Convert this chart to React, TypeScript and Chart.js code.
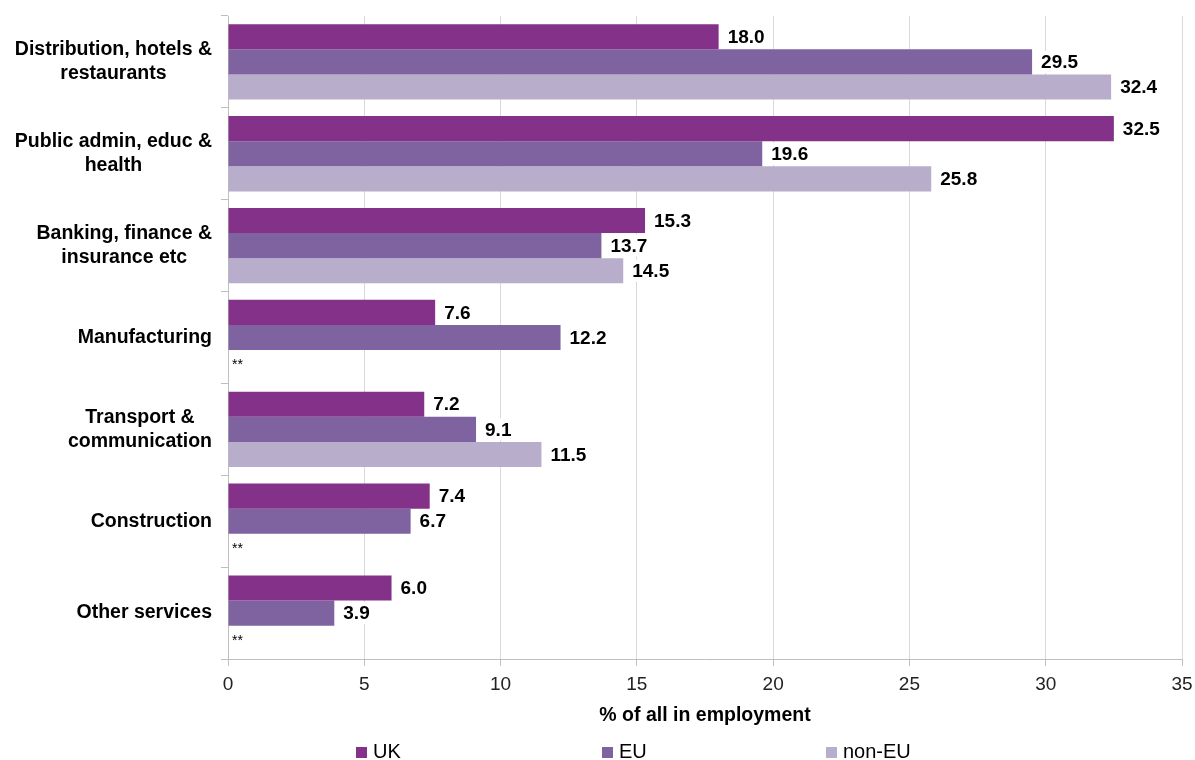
import React, { useEffect, useRef } from "react";
import { Chart, registerables } from "chart.js";

Chart.register(...registerables);

const categories: string[][] = [
  ["Distribution, hotels &", "restaurants"],
  ["Public admin, educ &", "health"],
  ["Banking, finance &", "insurance etc"],
  ["Manufacturing"],
  ["Transport &", "communication"],
  ["Construction"],
  ["Other services"],
];
const seriesNames = ["UK", "EU", "non-EU"];
const ukValues = [18.0, 32.5, 15.3, 7.6, 7.2, 7.4, 6.0];
const euValues = [29.5, 19.6, 13.7, 12.2, 9.1, 6.7, 3.9];
const nonEuValues: (number | null)[] = [32.4, 25.8, 14.5, null, 11.5, null, null];
const seriesColors = ["#833189", "#7E63A0", "#B8AECC"];
const xMin = 0;
const xMax = 35;
const xStep = 5;
const xTitle = "% of all in employment";
const missingMark = "**";

const FONT = '"Liberation Sans", Arial, sans-serif';
const legendX = [356, 602, 826];

const overlayPlugin = {
  id: "overlay",
  afterDatasetsDraw(chart: any) {
    const ctx = chart.ctx;
    const yScale = chart.scales.y;
    const area = chart.chartArea;
    ctx.save();
    // category labels
    ctx.font = `bold 19.5px ${FONT}`;
    ctx.fillStyle = "#000";
    ctx.textBaseline = "middle";
    ctx.textAlign = "center";
    categories.forEach((lines, i) => {
      const cy = yScale.getPixelForValue(i);
      const w = Math.max(...lines.map((l) => ctx.measureText(l).width));
      const cx = area.left - 16 - w / 2;
      lines.forEach((l, j) => {
        ctx.fillText(l, cx, cy + (j - (lines.length - 1) / 2) * 24);
      });
    });
    // data labels
    const catW = yScale.getPixelForValue(1) - yScale.getPixelForValue(0);
    const barT = (catW * 0.82) / 3;
    chart.data.datasets.forEach((ds: any, di: number) => {
      const meta = chart.getDatasetMeta(di);
      meta.data.forEach((el: any, i: number) => {
        const v = ds.data[i];
        if (v == null) {
          const cy = yScale.getPixelForValue(i) + (di - 1) * barT;
          ctx.font = `14px ${FONT}`;
          ctx.textAlign = "left";
          ctx.fillStyle = "#000";
          ctx.fillText(missingMark, area.left + 4, cy + 3);
          return;
        }
        ctx.font = `bold 19px ${FONT}`;
        const text = Number(v).toFixed(1);
        const tw = ctx.measureText(text).width;
        const x = el.x + 9;
        ctx.fillStyle = "#fff";
        ctx.fillRect(x - 2, el.y - 11, tw + 4, 22);
        ctx.fillStyle = "#000";
        ctx.textAlign = "left";
        ctx.fillText(text, x, el.y + 1);
      });
    });
    // legend
    ctx.font = `20px ${FONT}`;
    ctx.textAlign = "left";
    ctx.textBaseline = "middle";
    seriesNames.forEach((name, i) => {
      const lx = legendX[i];
      const ly = 752;
      ctx.fillStyle = seriesColors[i];
      ctx.fillRect(lx, ly - 5, 11, 11);
      ctx.fillStyle = "#000";
      ctx.fillText(name, lx + 17, ly);
    });
    ctx.restore();
  },
};

export default function App() {
  const ref = useRef<HTMLCanvasElement | null>(null);
  useEffect(() => {
    if (!ref.current) return;
    Chart.defaults.font.family = FONT;
    const chart = new Chart(ref.current, {
      type: "bar",
      data: {
        labels: categories.map((c) => c.join(" ")),
        datasets: [ukValues, euValues, nonEuValues].map((d, i) => ({
          label: seriesNames[i],
          data: d,
          backgroundColor: seriesColors[i],
          borderWidth: 0,
          barPercentage: 1,
          categoryPercentage: 0.82,
        })),
      },
      options: {
        indexAxis: "y",
        animation: false,
        responsive: false,
        layout: { padding: { top: 16, right: 13, bottom: 33, left: 0 } },
        plugins: {
          legend: { display: false },
          tooltip: { enabled: false },
        },
        scales: {
          x: {
            min: xMin,
            max: xMax,
            ticks: {
              stepSize: xStep,
              color: "#222",
              font: { size: 19, family: FONT },
              padding: 7,
            },
            grid: {
              color: "#d9d9d9",
              tickColor: "#bfbfbf",
              tickLength: 7,
            },
            border: { color: "#bfbfbf" },
            title: {
              display: true,
              text: xTitle,
              color: "#000",
              font: { size: 19.5, weight: "bold", family: FONT },
              padding: { top: 8, bottom: 0 },
            },
            afterFit: (scale: any) => {
              scale.height = 68;
              scale.paddingRight = 0;
              scale.paddingLeft = 0;
            },
          },
          y: {
            ticks: { display: false },
            grid: {
              display: true,
              drawOnChartArea: false,
              drawTicks: true,
              tickLength: 7,
              color: "#bfbfbf",
            },
            border: { color: "#bfbfbf" },
            afterFit: (scale: any) => {
              scale.width = 228;
            },
          },
        },
      },
      plugins: [overlayPlugin],
    } as any);
    return () => chart.destroy();
  }, []);
  return (
    <div style={{ position: "absolute", left: 0, top: 0, width: 1195, height: 760, background: "#fff" }}>
      <canvas ref={ref} width={1195} height={760} style={{ display: "block" }} />
    </div>
  );
}
